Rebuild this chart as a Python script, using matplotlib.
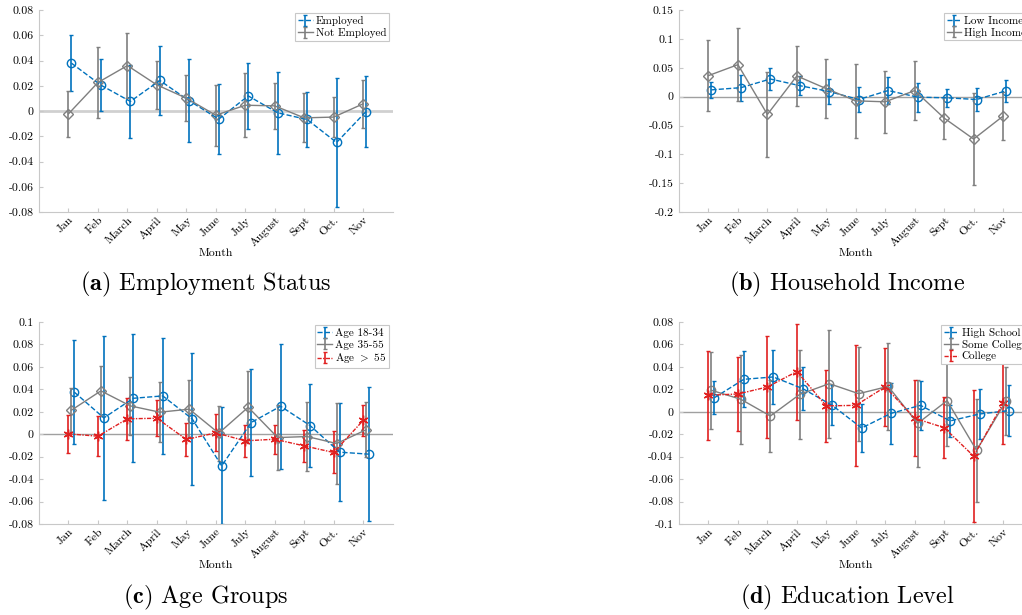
import numpy as np
import matplotlib.pyplot as plt

plt.rcParams['font.family'] = 'cmr10'
plt.rcParams['mathtext.fontset'] = 'cm'
plt.rcParams['axes.unicode_minus'] = False

months = ['Jan', 'Feb', 'March', 'April', 'May', 'June', 'July', 'August', 'Sept', 'Oct.', 'Nov']

# (a) employment status
employed = [0.038, 0.0206, 0.0077, 0.0243, 0.0082, -0.0063, 0.0121, -0.0013, -0.0066, -0.0248, -0.0003]
employed_err = [0.022, 0.0205, 0.029, 0.0275, 0.033, 0.028, 0.026, 0.0325, 0.0216, 0.051, 0.0278]
not_employed = [-0.0021, 0.0227, 0.0361, 0.0208, 0.0103, -0.0032, 0.0047, 0.0042, -0.0053, -0.0047, 0.0058]
not_employed_err = [0.018, 0.028, 0.026, 0.0193, 0.0183, 0.024, 0.0253, 0.018, 0.0195, 0.016, 0.019]

# (b) household income
low_income = [0.0119, 0.0157, 0.0307, 0.0192, 0.009, -0.0048, 0.0107, -0.0007, -0.0019, -0.0048, 0.0102]
low_income_err = [0.014, 0.0225, 0.019, 0.016, 0.022, 0.021, 0.024, 0.025, 0.0155, 0.020, 0.019]
high_income = [0.0366, 0.0556, -0.0307, 0.036, 0.014, -0.0071, -0.0088, 0.0107, -0.037, -0.0733, -0.0336]
high_income_err = [0.062, 0.063, 0.074, 0.052, 0.051, 0.064, 0.054, 0.0505, 0.037, 0.079, 0.042]

# (c) age groups
age_young = [0.0374, 0.0145, 0.032, 0.0341, 0.0136, -0.0282, 0.0104, 0.0249, 0.0077, -0.016, -0.0178]
age_young_err = [0.0463, 0.073, 0.057, 0.0515, 0.059, 0.052, 0.048, 0.0556, 0.0366, 0.0435, 0.0595]
age_mid = [0.0214, 0.0386, 0.0252, 0.0196, 0.0223, 0.0009, 0.024, -0.003, -0.0021, -0.0083, 0.0039]
age_mid_err = [0.0197, 0.0222, 0.026, 0.027, 0.026, 0.0245, 0.032, 0.029, 0.0305, 0.0365, 0.0245]
age_old = [0.0003, -0.0018, 0.0137, 0.0142, -0.0047, 0.0012, -0.0059, -0.0045, -0.0104, -0.0163, 0.0122]
age_old_err = [0.0167, 0.018, 0.0185, 0.016, 0.0144, 0.0166, 0.0144, 0.0128, 0.0144, 0.0187, 0.014]

# (d) education level
high_school = [0.0125, 0.0289, 0.031, 0.0206, 0.0057, -0.0145, -0.0014, 0.0057, -0.0082, -0.002, 0.001]
high_school_err = [0.0148, 0.0249, 0.0237, 0.0193, 0.0177, 0.021, 0.027, 0.0221, 0.0142, 0.022, 0.0229]
some_college = [0.0191, 0.0111, -0.0038, 0.0155, 0.025, 0.0161, 0.0226, -0.0104, 0.0099, -0.0344, 0.0096]
some_college_err = [0.0344, 0.0396, 0.0322, 0.0397, 0.048, 0.042, 0.0387, 0.0387, 0.040, 0.046, 0.0305]
college = [0.0147, 0.0158, 0.0221, 0.0358, 0.0052, 0.0057, 0.0221, -0.0058, -0.0142, -0.0395, 0.0075]
college_err = [0.0396, 0.0327, 0.0451, 0.0428, 0.032, 0.0538, 0.035, 0.0337, 0.0272, 0.059, 0.0366]

yticks_a = [-0.08, -0.06, -0.04, -0.02, 0, 0.02, 0.04, 0.06, 0.08]
yticks_b = [-0.2, -0.15, -0.1, -0.05, 0, 0.05, 0.1, 0.15]
yticks_c = [-0.08, -0.06, -0.04, -0.02, 0, 0.02, 0.04, 0.06, 0.08, 0.1]
yticks_d = [-0.1, -0.08, -0.06, -0.04, -0.02, 0, 0.02, 0.04, 0.06, 0.08]

BLUE = '#0072BD'
GRAY = '#7f7f7f'
RED = '#e02020'
SPINE = '#c8c8c8'
ASTERISK = (6, 2, 0)

x = np.arange(1, 12)


def series(ax, dx, y, err, color, ls, marker, label, ms=6):
    ax.errorbar(x + dx, y, yerr=err, color=color, ls=ls, lw=1, elinewidth=1.2,
                capsize=1.5, capthick=1, label=label)
    ax.plot(x + dx, y, ls='none', marker=marker, mfc='none', mec=color, ms=ms, mew=1)


def setup(ax, yticks, zero_color, zero_lw):
    ax.axhline(0, color=zero_color, lw=zero_lw, zorder=0)
    ax.set_xlim(0, 12)
    ax.set_ylim(yticks[0], yticks[-1])
    ax.set_xticks(x)
    ax.set_xticklabels(months, rotation=45, ha='right', rotation_mode='anchor', fontsize=8.5)
    ax.set_yticks(yticks)
    ax.set_yticklabels(['%g' % t for t in yticks], fontsize=8.5)
    ax.tick_params(direction='in', length=3, color=SPINE, width=0.8, pad=4)
    ax.tick_params(axis='x', pad=2)
    for s in ['top', 'right']:
        ax.spines[s].set_visible(False)
    for s in ['left', 'bottom']:
        ax.spines[s].set_color(SPINE)
        ax.spines[s].set_linewidth(0.8)
    ax.set_xlabel('Month', fontsize=8.5, labelpad=0)
    leg = ax.legend(loc='upper right', fontsize=8, fancybox=False, framealpha=1,
                    edgecolor=SPINE, borderaxespad=0.3, borderpad=0.25,
                    labelspacing=0.15, handlelength=1.3, handletextpad=0.3)
    leg.get_frame().set_linewidth(0.8)


fig = plt.figure(figsize=(10.22, 6.15), dpi=100)
w, h = 0.3459, 0.3285
ax_a = fig.add_axes([0.0382, 0.655, w, h])
ax_b = fig.add_axes([0.6644, 0.655, w, h])
ax_c = fig.add_axes([0.0382, 0.148, w, h])
ax_d = fig.add_axes([0.6644, 0.148, w, h])

series(ax_a, 0.1, employed, employed_err, BLUE, '--', 'o', 'Employed')
series(ax_a, 0.0, not_employed, not_employed_err, GRAY, '-', 'D', 'Not Employed', ms=5)
setup(ax_a, yticks_a, '#d0d0d0', 2.0)

series(ax_b, 0.1, low_income, low_income_err, BLUE, '--', 'o', 'Low Income')
series(ax_b, 0.0, high_income, high_income_err, GRAY, '-', 'D', 'High Income', ms=5)
setup(ax_b, yticks_b, '#a0a0a0', 1.0)

series(ax_c, 0.2, age_young, age_young_err, BLUE, '--', 'o', 'Age 18-34')
series(ax_c, 0.1, age_mid, age_mid_err, GRAY, '-', 'D', 'Age 35-55', ms=5)
series(ax_c, 0.0, age_old, age_old_err, RED, (0, (3, 1, 1, 1)), ASTERISK, r'Age $>$ 55', ms=7)
setup(ax_c, yticks_c, '#a0a0a0', 1.0)

series(ax_d, 0.2, high_school, high_school_err, BLUE, '--', 'o', 'High School')
series(ax_d, 0.1, some_college, some_college_err, GRAY, '-', 'o', 'Some College')
series(ax_d, 0.0, college, college_err, RED, (0, (3, 1, 1, 1)), ASTERISK, 'College', ms=7)
setup(ax_d, yticks_d, '#a0a0a0', 1.0)

fig.text(0.2016, 0.538, r'$\mathbf{(a)}$ Employment Status', ha='center', va='center', fontsize=17.5)
fig.text(0.829, 0.538, r'$\mathbf{(b)}$ Household Income', ha='center', va='center', fontsize=17.5)
fig.text(0.2016, 0.028, r'$\mathbf{(c)}$ Age Groups', ha='center', va='center', fontsize=17.5)
fig.text(0.829, 0.028, r'$\mathbf{(d)}$ Education Level', ha='center', va='center', fontsize=17.5)

fig.savefig('out.png', dpi=100)
